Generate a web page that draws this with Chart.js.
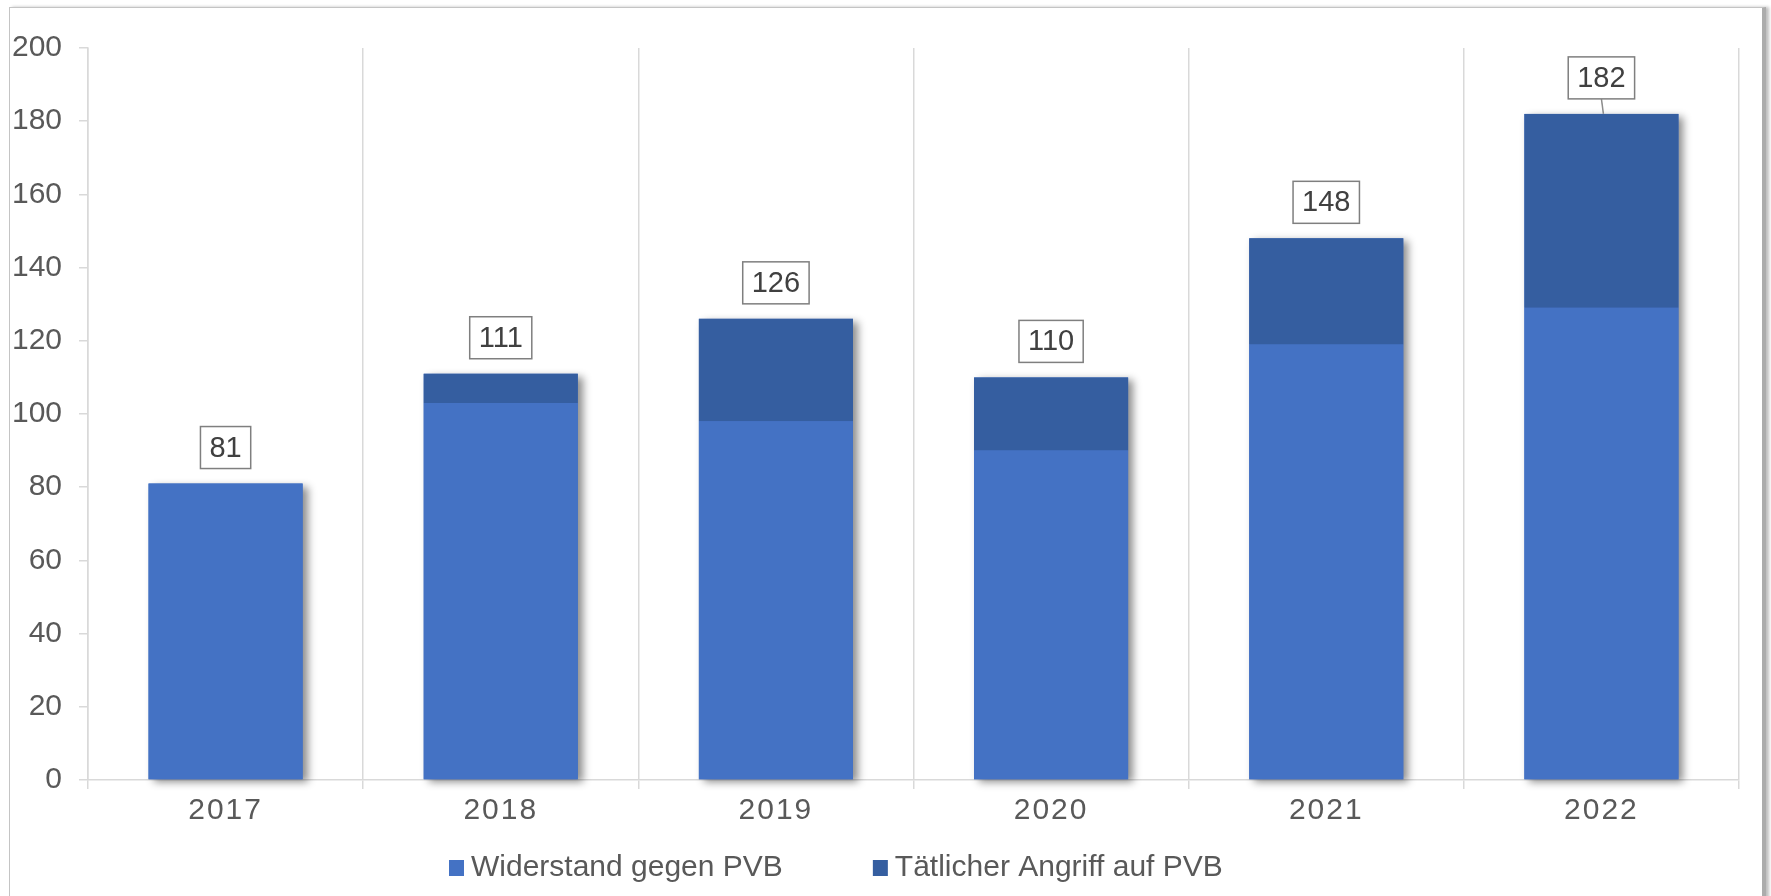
<!DOCTYPE html>
<html>
<head>
<meta charset="utf-8">
<script src="https://cdn.jsdelivr.net/npm/chart.js@4.4.1/dist/chart.umd.min.js"></script>
<style>
    body { margin: 0; background: #fff; overflow: hidden; }
    #frame {
        position: absolute; left: 9px; top: 7px; width: 1752px; height: 1000px;
        border-left: 1px solid #c4c4c4; border-top: 1px solid #c4c4c4;
        border-right: 4px solid #acacac; box-shadow: 3px 0 3px rgba(0,0,0,0.25);
    }
    #chart { position: absolute; left: 0; top: 0; }
</style>
</head>
<body>
<div id="frame"></div>
<canvas id="chart" width="1771" height="896"></canvas>
<script>
const years = ["2017", "2018", "2019", "2020", "2021", "2022"]
const widerstand = [81, 103, 98, 90, 119, 129]
const angriff = [0, 8, 28, 20, 29, 53]
const seriesNames = ["Widerstand gegen PVB", "Tätlicher Angriff auf PVB"]
const yMin = 0
const yMax = 200
const yStep = 20

const totals = years.map((y, i) => widerstand[i] + angriff[i])
const leaderLineFor = [false, false, false, false, false, true]

Chart.defaults.font.family = '"Liberation Sans", Arial, sans-serif'

// one shadow behind the whole stack, so the split between segments stays clean
const stackShadow = {
    id: "stackShadow",
    beforeDatasetsDraw(chart) {
        const ctx = chart.ctx
        const low = chart.getDatasetMeta(0)
        const high = chart.getDatasetMeta(1)
        low.data.forEach((bar, i) => {
            const top = Math.min(bar.y, high.data[i].y)
            ctx.save()
            ctx.shadowColor = "rgba(0,0,0,0.45)"
            ctx.shadowBlur = 8
            ctx.shadowOffsetX = 5
            ctx.shadowOffsetY = 3
            ctx.fillStyle = "#4472c4"
            ctx.fillRect(bar.x - bar.width / 2, top, bar.width, bar.base - top)
            ctx.restore()
        })
    }
}

const totalLabels = {
    id: "totalLabels",
    afterDatasetsDraw(chart) {
        const ctx = chart.ctx
        const low = chart.getDatasetMeta(0)
        const high = chart.getDatasetMeta(1)
        ctx.save()
        ctx.font = '29px "Liberation Sans", Arial, sans-serif'
        ctx.textAlign = "center"
        ctx.textBaseline = "middle"
        low.data.forEach((bar, i) => {
            const top = Math.min(bar.y, high.data[i].y)
            const text = String(totals[i])
            const w = ctx.measureText(text).width + 18
            const h = 42
            const bottom = top - 15
            if (leaderLineFor[i]) {
                ctx.strokeStyle = "#8c8c8c"
                ctx.lineWidth = 1.5
                ctx.beginPath()
                ctx.moveTo(bar.x, bottom)
                ctx.lineTo(bar.x + 2, top)
                ctx.stroke()
            }
            ctx.fillStyle = "#fff"
            ctx.fillRect(bar.x - w / 2, bottom - h, w, h)
            ctx.strokeStyle = "#7f7f7f"
            ctx.lineWidth = 1.5
            ctx.strokeRect(bar.x - w / 2, bottom - h, w, h)
            ctx.fillStyle = "#404040"
            ctx.fillText(text, bar.x, bottom - h / 2 + 1)
        })
        ctx.restore()
        // the year labels (ticks z: 1) are drawn next, spaced out a little
        ctx.letterSpacing = "2px"
    },
    afterDraw(chart) {
        const ctx = chart.ctx
        ctx.letterSpacing = "0px"
        ctx.save()
        ctx.font = '30px "Liberation Sans", Arial, sans-serif'
        ctx.textBaseline = "middle"
        ctx.textAlign = "left"
        let x = 449
        const y = 868
        chart.data.datasets.forEach(ds => {
            ctx.fillStyle = ds.backgroundColor
            ctx.fillRect(x, y - 8, 15, 16)
            x += 22
            ctx.fillStyle = "#595959"
            ctx.fillText(ds.label, x, y)
            x += ctx.measureText(ds.label).width + 90
        })
        ctx.restore()
    }
}

new Chart(document.getElementById("chart").getContext("2d"), {
    type: "bar",
    data: {
        labels: years,
        datasets: [
            {
                label: seriesNames[0],
                data: widerstand,
                backgroundColor: "#4472c4",
                borderWidth: 0
            },
            {
                label: seriesNames[1],
                data: angriff,
                backgroundColor: "#355ea0",
                borderWidth: 0
            }
        ]
    },
    options: {
        responsive: false,
        animation: false,
        categoryPercentage: 1,
        barPercentage: 0.56,
        layout: { padding: { top: 48, left: 0, right: 32, bottom: 56 } },
        plugins: {
            legend: { display: false },
            tooltip: { enabled: false }
        },
        scales: {
            x: {
                stacked: true,
                grid: { offset: true, color: "#d9d9d9", lineWidth: 1.5, tickLength: 9 },
                border: { color: "#d9d9d9", width: 1.5 },
                ticks: { z: 1, color: "#595959", font: { size: 30 }, padding: 4 },
                afterFit(scale) { scale.height = 60 }
            },
            y: {
                stacked: true,
                min: yMin,
                max: yMax,
                ticks: { stepSize: yStep, color: "#595959", font: { size: 30 }, padding: 17 },
                grid: { drawOnChartArea: false, color: "#d9d9d9", lineWidth: 1.5, tickLength: 9 },
                border: { color: "#d9d9d9", width: 1.5 },
                afterFit(scale) { scale.width = 88 }
            }
        }
    },
    plugins: [stackShadow, totalLabels]
})
</script>
</body>
</html>
